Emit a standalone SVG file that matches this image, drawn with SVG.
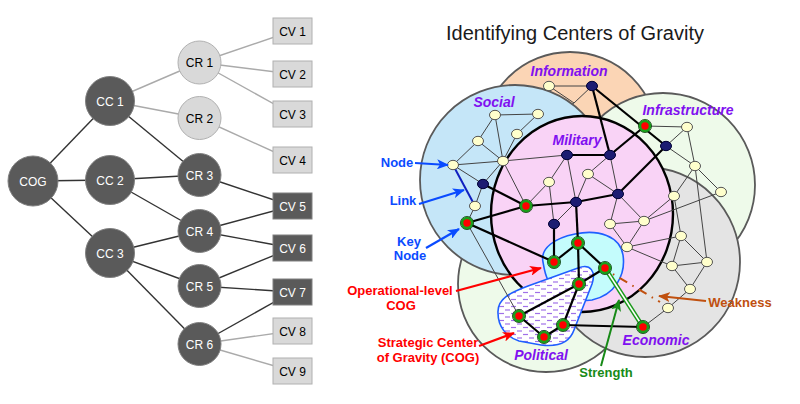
<svg xmlns="http://www.w3.org/2000/svg" width="800" height="404" viewBox="0 0 800 404">
<defs>
<style>
text{font-family:"Liberation Sans",Arial,sans-serif}
.tl{stroke:#333;stroke-width:1.4;fill:none}
.tll{stroke:#aaa;stroke-width:1.4;fill:none}
.dn{fill:#5a5a5a;stroke:#808080;stroke-width:1}
.ln{fill:#d9d9d9;stroke:#b0b0b0;stroke-width:1}
.dt{fill:#fff;font-size:12px;text-anchor:middle}
.lt{fill:#000;font-size:12px;text-anchor:middle}
.zone{stroke:#5a5a5a;stroke-width:1.8}
.th{stroke:#444;stroke-width:1;fill:none}
.tk{stroke:#000;stroke-width:2.2;fill:none}
.cr{fill:#ffffcc;stroke:#555;stroke-width:1}
.nv{fill:#1c1c72;stroke:#000033;stroke-width:1}
.ky{fill:#ff0000;stroke:#1aa01a;stroke-width:2.6}
.kyo{fill:none;stroke:#0c400c;stroke-width:0.8}
.pl{fill:#8010f0;font-size:14px;font-weight:bold;font-style:italic;text-anchor:middle}
.an{font-size:13px;font-weight:bold;text-anchor:middle}
</style>
<pattern id="hatch" width="12" height="7" patternUnits="userSpaceOnUse">
<rect width="12" height="7" fill="#ffffff"/>
<line x1="1" y1="2" x2="6" y2="2" stroke="#a070e8" stroke-width="1.2"/>
<line x1="7" y1="5.5" x2="12" y2="5.5" stroke="#a070e8" stroke-width="1.2"/>
</pattern>
<marker id="ab" viewBox="0 0 12 10" markerWidth="12" markerHeight="10" refX="11" refY="5" orient="auto" markerUnits="userSpaceOnUse"><path d="M0,0 L12,5 L0,10 L3,5 z" fill="#0a4bff"/></marker>
<marker id="ar" viewBox="0 0 12 10" markerWidth="12" markerHeight="10" refX="11" refY="5" orient="auto" markerUnits="userSpaceOnUse"><path d="M0,0 L12,5 L0,10 L3,5 z" fill="#ff0000"/></marker>
<marker id="ag" viewBox="0 0 12 10" markerWidth="12" markerHeight="10" refX="11" refY="5" orient="auto" markerUnits="userSpaceOnUse"><path d="M0,0 L12,5 L0,10 L3,5 z" fill="#178a17"/></marker>
<marker id="aw" viewBox="0 0 12 10" markerWidth="12" markerHeight="10" refX="11" refY="5" orient="auto" markerUnits="userSpaceOnUse"><path d="M0,0 L12,5 L0,10 L3,5 z" fill="#c0500f"/></marker>
</defs>
<rect width="800" height="404" fill="#ffffff"/>

<!-- LEFT TREE connectors -->
<g id="tree-connectors">
<line class="tl" x1="33" y1="181" x2="110" y2="101"/>
<line class="tl" x1="33" y1="181" x2="110" y2="180"/>
<line class="tl" x1="33" y1="181" x2="110" y2="253"/>
<line class="tll" x1="110" y1="101" x2="199.5" y2="62.5"/>
<line class="tll" x1="110" y1="101" x2="199.5" y2="118"/>
<line class="tl" x1="110" y1="101" x2="199.5" y2="175"/>
<line class="tl" x1="110" y1="180" x2="199.5" y2="175"/>
<line class="tl" x1="110" y1="180" x2="199.5" y2="231"/>
<line class="tl" x1="110" y1="253" x2="199.5" y2="231"/>
<line class="tl" x1="110" y1="253" x2="199.5" y2="286"/>
<line class="tl" x1="110" y1="253" x2="199.5" y2="344"/>
<line class="tll" x1="199.5" y1="62.5" x2="292" y2="31"/>
<line class="tll" x1="199.5" y1="62.5" x2="292" y2="74"/>
<line class="tll" x1="199.5" y1="62.5" x2="292" y2="114"/>
<line class="tll" x1="199.5" y1="118" x2="292" y2="160"/>
<line class="tl" x1="199.5" y1="175" x2="292" y2="206"/>
<line class="tl" x1="199.5" y1="231" x2="292" y2="206"/>
<line class="tl" x1="199.5" y1="231" x2="292" y2="248"/>
<line class="tl" x1="199.5" y1="286" x2="292" y2="248"/>
<line class="tl" x1="199.5" y1="286" x2="292" y2="292"/>
<line class="tl" x1="199.5" y1="344" x2="292" y2="292"/>
<line class="tll" x1="199.5" y1="344" x2="292" y2="331"/>
<line class="tll" x1="199.5" y1="344" x2="292" y2="371"/>
</g>

<g id="t-cog"><circle class="dn" cx="33" cy="181" r="25"/><text class="dt" x="33" y="185.5">COG</text></g>
<g id="t-cc1"><circle class="dn" cx="110" cy="101" r="24.5"/><text class="dt" x="110" y="105.5">CC 1</text></g>
<g id="t-cc2"><circle class="dn" cx="110" cy="180" r="24.5"/><text class="dt" x="110" y="184.5">CC 2</text></g>
<g id="t-cc3"><circle class="dn" cx="110" cy="253" r="24.5"/><text class="dt" x="110" y="257.5">CC 3</text></g>
<g id="t-cr1"><circle class="ln" cx="199.5" cy="62.5" r="21.5"/><text class="lt" x="199.5" y="67">CR 1</text></g>
<g id="t-cr2"><circle class="ln" cx="199.5" cy="118" r="21.5"/><text class="lt" x="199.5" y="122.5">CR 2</text></g>
<g id="t-cr3"><circle class="dn" cx="199.5" cy="175" r="21.5"/><text class="dt" x="199.5" y="179.5">CR 3</text></g>
<g id="t-cr4"><circle class="dn" cx="199.5" cy="231" r="21.5"/><text class="dt" x="199.5" y="235.5">CR 4</text></g>
<g id="t-cr5"><circle class="dn" cx="199.5" cy="286" r="21.5"/><text class="dt" x="199.5" y="290.5">CR 5</text></g>
<g id="t-cr6"><circle class="dn" cx="199.5" cy="344" r="21.5"/><text class="dt" x="199.5" y="348.5">CR 6</text></g>
<g id="t-cv1"><rect class="ln" x="273" y="18" width="39" height="26"/><text class="lt" x="292.5" y="35.5">CV 1</text></g>
<g id="t-cv2"><rect class="ln" x="273" y="61" width="39" height="26"/><text class="lt" x="292.5" y="78.5">CV 2</text></g>
<g id="t-cv3"><rect class="ln" x="273" y="101" width="39" height="26"/><text class="lt" x="292.5" y="118.5">CV 3</text></g>
<g id="t-cv4"><rect class="ln" x="273" y="147" width="39" height="26"/><text class="lt" x="292.5" y="164.5">CV 4</text></g>
<g id="t-cv5"><rect class="dn" x="273" y="193" width="39" height="26"/><text class="dt" x="292.5" y="210.5">CV 5</text></g>
<g id="t-cv6"><rect class="dn" x="273" y="235" width="39" height="26"/><text class="dt" x="292.5" y="252.5">CV 6</text></g>
<g id="t-cv7"><rect class="dn" x="273" y="279" width="39" height="26"/><text class="dt" x="292.5" y="296.5">CV 7</text></g>
<g id="t-cv8"><rect class="ln" x="273" y="318" width="39" height="26"/><text class="lt" x="292.5" y="335.5">CV 8</text></g>
<g id="t-cv9"><rect class="ln" x="273" y="358" width="39" height="26"/><text class="lt" x="292.5" y="375.5">CV 9</text></g>

<!-- RIGHT: title -->
<text x="575" y="40" font-size="20" fill="#1a1a1a" text-anchor="middle">Identifying Centers of Gravity</text>

<!-- zones -->
<g id="zone-information">
<circle class="zone" cx="570" cy="140" r="88" fill="#fbd5b5"/>
<g class="th"><line x1="549" y1="86" x2="592" y2="86"/><line x1="592" y1="86" x2="574" y2="103"/><line x1="549" y1="86" x2="574" y2="103"/><line x1="574" y1="103" x2="548" y2="118"/></g>
</g>
<g id="zone-infrastructure"><circle class="zone" cx="663" cy="185" r="92" fill="#eefaea"/></g>
<g id="zone-political"><circle class="zone" cx="546" cy="284" r="88" fill="#eefaea"/></g>
<g id="zone-economic"><circle class="zone" cx="645" cy="262" r="95" fill="#e4e4e4"/></g>
<g id="zone-social"><circle class="zone" cx="515" cy="180" r="95" fill="#c5e6f8"/></g>
<g id="zone-military"><ellipse cx="582" cy="214" rx="91" ry="98" fill="#f9d3f6" stroke="#000" stroke-width="2.4"/></g>
<g id="zone-operational"><path d="M543,262 C540,248 555,238 575,234 C598,229 620,236 623,255 C626,275 615,295 592,300 C575,303 555,290 548,280 C545,275 544,268 543,262 Z" fill="#c4fcfc" stroke="#1f5fff" stroke-width="1.6"/></g>
<g id="zone-strategic"><path d="M498,313 C497,298 512,292 528,286 L578,268 C591,263 596,272 592,284 L574,330 C569,344 556,347 541,345 L519,341 C506,337 498,326 498,313 Z" fill="url(#hatch)" stroke="#1f5fff" stroke-width="1.6"/></g>

<!-- connectors -->
<g id="connectors">
<g class="th">
<line x1="495" y1="115" x2="538" y2="114"/>
<line x1="495" y1="115" x2="478" y2="141"/>
<line x1="495" y1="115" x2="503" y2="161"/>
<line x1="538" y1="114" x2="517" y2="134"/>
<line x1="517" y1="134" x2="503" y2="161"/>
<line x1="478" y1="141" x2="453" y2="165"/>
<line x1="478" y1="141" x2="503" y2="161"/>
<line x1="453" y1="165" x2="503" y2="161"/>
<line x1="453" y1="165" x2="483" y2="184"/>
<line x1="503" y1="161" x2="483" y2="184"/>
<line x1="483" y1="184" x2="475" y2="206"/>
<line x1="475" y1="206" x2="467" y2="223"/>
<line x1="503" y1="161" x2="567" y2="155"/>
<line x1="467" y1="223" x2="519" y2="316"/>
<line x1="567" y1="155" x2="549" y2="182"/>
<line x1="567" y1="155" x2="576" y2="202"/>
<line x1="588" y1="174" x2="610" y2="155"/>
<line x1="588" y1="174" x2="576" y2="202"/>
<line x1="588" y1="174" x2="618" y2="194"/>
<line x1="549" y1="182" x2="526" y2="206"/>
<line x1="549" y1="182" x2="554" y2="224"/>
<line x1="503" y1="161" x2="526" y2="206"/>
<line x1="576" y1="202" x2="554" y2="224"/>
<line x1="610" y1="155" x2="618" y2="194"/>
<line x1="618" y1="194" x2="610" y2="224"/>
<line x1="618" y1="194" x2="644" y2="221"/>
<line x1="610" y1="224" x2="644" y2="221"/>
<line x1="610" y1="224" x2="627" y2="247"/>
<line x1="644" y1="221" x2="627" y2="247"/>
<line x1="644" y1="221" x2="674" y2="196"/>
<line x1="644" y1="221" x2="721" y2="192"/>
<line x1="627" y1="247" x2="681" y2="236"/>
<line x1="645" y1="126" x2="687" y2="127"/>
<line x1="666" y1="146" x2="687" y2="127"/>
<line x1="666" y1="146" x2="695" y2="166"/>
<line x1="687" y1="127" x2="695" y2="166"/>
<line x1="695" y1="166" x2="721" y2="192"/>
<line x1="695" y1="166" x2="674" y2="196"/>
<line x1="695" y1="166" x2="707" y2="262"/>
<line x1="674" y1="196" x2="681" y2="236"/>
<line x1="681" y1="236" x2="672" y2="266"/>
<line x1="681" y1="236" x2="707" y2="262"/>
<line x1="672" y1="266" x2="707" y2="262"/>
<line x1="672" y1="266" x2="690" y2="289"/>
<line x1="707" y1="262" x2="690" y2="289"/>
<line x1="690" y1="289" x2="668" y2="308"/>
<line x1="668" y1="308" x2="643" y2="327"/>
<line x1="627" y1="247" x2="672" y2="266"/>
</g>
<line x1="453" y1="165" x2="475" y2="206" stroke="#1020c0" stroke-width="2"/>
<g class="tk">
<line x1="483" y1="184" x2="526" y2="206"/>
<line x1="467" y1="223" x2="526" y2="206"/>
<line x1="467" y1="223" x2="554" y2="262"/>
<line x1="526" y1="206" x2="576" y2="202"/>
<line x1="567" y1="155" x2="610" y2="155"/>
<line x1="592" y1="86" x2="610" y2="155"/>
<line x1="592" y1="86" x2="666" y2="146"/>
<line x1="610" y1="155" x2="645" y2="126"/>
<line x1="666" y1="146" x2="618" y2="194"/>
<line x1="576" y1="202" x2="618" y2="194"/>
<line x1="576" y1="202" x2="578" y2="243"/>
<line x1="554" y1="224" x2="554" y2="262"/>
<line x1="554" y1="262" x2="578" y2="243"/>
<line x1="578" y1="243" x2="605" y2="268"/>
<line x1="578" y1="243" x2="579" y2="284"/>
<line x1="605" y1="268" x2="579" y2="284"/>
<line x1="579" y1="284" x2="519" y2="316"/>
<line x1="579" y1="284" x2="563" y2="325"/>
<line x1="519" y1="316" x2="544" y2="337"/>
<line x1="544" y1="337" x2="563" y2="325"/>
<line x1="563" y1="325" x2="643" y2="327"/>
</g>
<line x1="605" y1="268" x2="643" y2="327" stroke="#1a9a1a" stroke-width="4.5"/>
<line x1="605" y1="268" x2="643" y2="327" stroke="#ffffff" stroke-width="1.5"/>
<line x1="613" y1="274" x2="660" y2="302" stroke="#c0500f" stroke-width="2" stroke-dasharray="1.5 6 9 6"/>
</g>

<!-- nodes -->
<g id="n-s1"><ellipse class="cr" cx="495" cy="115" rx="5.5" ry="4.7"/></g>
<g id="n-s2"><ellipse class="cr" cx="538" cy="114" rx="5.5" ry="4.7"/></g>
<g id="n-s3"><ellipse class="cr" cx="517" cy="134" rx="5.5" ry="4.7"/></g>
<g id="n-s4"><ellipse class="cr" cx="478" cy="141" rx="5.5" ry="4.7"/></g>
<g id="n-s5"><ellipse class="cr" cx="503" cy="161" rx="5.5" ry="4.7"/></g>
<g id="n-s6"><ellipse class="cr" cx="453" cy="165" rx="5.5" ry="4.7"/></g>
<g id="n-s7"><ellipse class="nv" cx="483" cy="184" rx="5.5" ry="4.7"/></g>
<g id="n-s8"><ellipse class="cr" cx="475" cy="206" rx="5.5" ry="4.7"/></g>
<g id="n-i1"><ellipse class="cr" cx="549" cy="86" rx="5.5" ry="4.7"/></g>
<g id="n-i2"><ellipse class="nv" cx="592" cy="86" rx="5.5" ry="4.7"/></g>
<g id="n-m1"><ellipse class="nv" cx="567" cy="155" rx="5.5" ry="4.7"/></g>
<g id="n-m2"><ellipse class="nv" cx="610" cy="155" rx="5.5" ry="4.7"/></g>
<g id="n-m3"><ellipse class="cr" cx="588" cy="174" rx="5.5" ry="4.7"/></g>
<g id="n-m4"><ellipse class="cr" cx="549" cy="182" rx="5.5" ry="4.7"/></g>
<g id="n-m5"><ellipse class="nv" cx="618" cy="194" rx="5.5" ry="4.7"/></g>
<g id="n-m6"><ellipse class="nv" cx="576" cy="202" rx="5.5" ry="4.7"/></g>
<g id="n-m7"><ellipse class="nv" cx="554" cy="224" rx="5.5" ry="4.7"/></g>
<g id="n-m8"><ellipse class="cr" cx="610" cy="224" rx="5.5" ry="4.7"/></g>
<g id="n-m9"><ellipse class="cr" cx="644" cy="221" rx="5.5" ry="4.7"/></g>
<g id="n-m10"><ellipse class="cr" cx="627" cy="247" rx="5.5" ry="4.7"/></g>
<g id="n-f1"><ellipse class="cr" cx="687" cy="127" rx="5.5" ry="4.7"/></g>
<g id="n-f2"><ellipse class="nv" cx="666" cy="146" rx="5.5" ry="4.7"/></g>
<g id="n-f3"><ellipse class="cr" cx="695" cy="166" rx="5.5" ry="4.7"/></g>
<g id="n-f4"><ellipse class="cr" cx="721" cy="192" rx="5.5" ry="4.7"/></g>
<g id="n-e1"><ellipse class="cr" cx="674" cy="196" rx="5.5" ry="4.7"/></g>
<g id="n-e2"><ellipse class="cr" cx="681" cy="236" rx="5.5" ry="4.7"/></g>
<g id="n-e3"><ellipse class="cr" cx="672" cy="266" rx="5.5" ry="4.7"/></g>
<g id="n-e4"><ellipse class="cr" cx="707" cy="262" rx="5.5" ry="4.7"/></g>
<g id="n-e5"><ellipse class="cr" cx="690" cy="289" rx="5.5" ry="4.7"/></g>
<g id="n-e6"><ellipse class="cr" cx="668" cy="308" rx="5.5" ry="4.7"/></g>
<g id="k-social"><circle class="ky" cx="467" cy="223" r="5"/><circle class="kyo" cx="467" cy="223" r="6.6"/></g>
<g id="k-military"><circle class="ky" cx="526" cy="206" r="5"/><circle class="kyo" cx="526" cy="206" r="6.6"/></g>
<g id="k-infra"><circle class="ky" cx="645" cy="126" r="5"/><circle class="kyo" cx="645" cy="126" r="6.6"/></g>
<g id="k-op1"><circle class="ky" cx="554" cy="262" r="5"/><circle class="kyo" cx="554" cy="262" r="6.6"/></g>
<g id="k-op2"><circle class="ky" cx="578" cy="243" r="5"/><circle class="kyo" cx="578" cy="243" r="6.6"/></g>
<g id="k-op3"><circle class="ky" cx="605" cy="268" r="5"/><circle class="kyo" cx="605" cy="268" r="6.6"/></g>
<g id="k-pol1"><circle class="ky" cx="579" cy="284" r="5"/><circle class="kyo" cx="579" cy="284" r="6.6"/></g>
<g id="k-pol2"><circle class="ky" cx="519" cy="316" r="5"/><circle class="kyo" cx="519" cy="316" r="6.6"/></g>
<g id="k-pol3"><circle class="ky" cx="544" cy="337" r="5"/><circle class="kyo" cx="544" cy="337" r="6.6"/></g>
<g id="k-pol4"><circle class="ky" cx="563" cy="325" r="5"/><circle class="kyo" cx="563" cy="325" r="6.6"/></g>
<g id="k-econ"><circle class="ky" cx="643" cy="327" r="5"/><circle class="kyo" cx="643" cy="327" r="6.6"/></g>

<!-- zone labels -->
<text class="pl" x="569" y="76">Information</text>
<text class="pl" x="494" y="107">Social</text>
<text class="pl" x="688" y="115">Infrastructure</text>
<text class="pl" x="577" y="145">Military</text>
<text class="pl" x="541" y="360">Political</text>
<text class="pl" x="656" y="345">Economic</text>

<!-- annotations -->
<g id="annotations">
<line x1="415" y1="163" x2="448" y2="165" stroke="#0a4bff" stroke-width="2.2" marker-end="url(#ab)"/>
<line x1="419" y1="204" x2="464" y2="190" stroke="#0a4bff" stroke-width="2.2" marker-end="url(#ab)"/>
<line x1="426" y1="248" x2="459" y2="229" stroke="#0a4bff" stroke-width="2.2" marker-end="url(#ab)"/>
<line x1="456" y1="291" x2="541" y2="268" stroke="#ff0000" stroke-width="2.2" marker-end="url(#ar)"/>
<line x1="479" y1="346" x2="514" y2="333" stroke="#ff0000" stroke-width="2.2" marker-end="url(#ar)"/>
<line x1="601" y1="366" x2="619" y2="300" stroke="#178a17" stroke-width="2" marker-end="url(#ag)"/>
<line x1="706" y1="301" x2="659" y2="296" stroke="#c0500f" stroke-width="2" marker-end="url(#aw)"/>
<text class="an" x="397" y="167" fill="#0a4bff">Node</text>
<text class="an" x="403" y="205" fill="#0a4bff">Link</text>
<text class="an" x="409" y="246" fill="#0a4bff">Key</text>
<text class="an" x="410" y="260" fill="#0a4bff">Node</text>
<text class="an" x="400" y="295" fill="#ff0000">Operational-level</text>
<text class="an" x="401" y="310" fill="#ff0000">COG</text>
<text class="an" x="428" y="347" fill="#ff0000">Strategic Center</text>
<text class="an" x="428" y="362" fill="#ff0000">of Gravity (COG)</text>
<text class="an" x="606" y="377" fill="#178a17">Strength</text>
<text class="an" x="740" y="307" fill="#c0500f">Weakness</text>
</g>
</svg>
